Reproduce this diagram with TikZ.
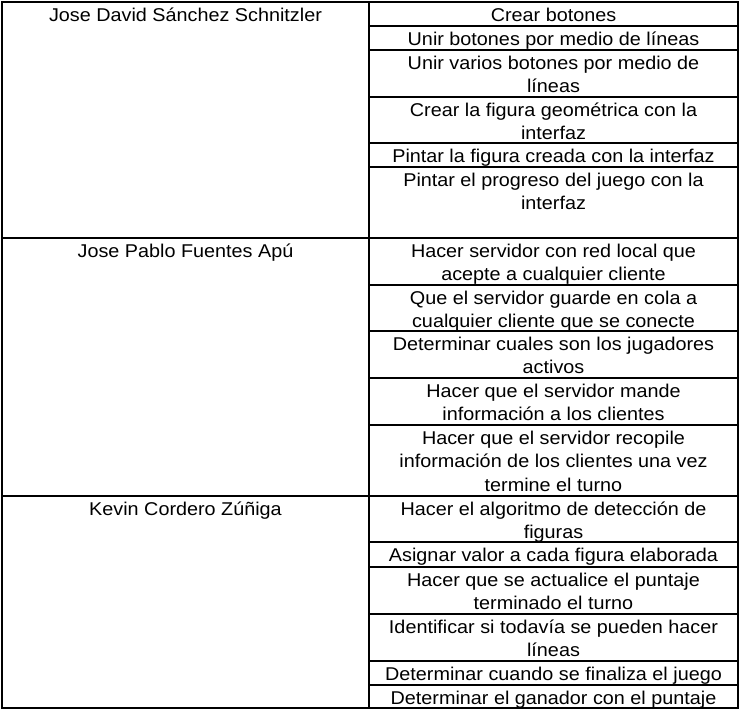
\documentclass[tikz,border=0pt]{standalone}
\usepackage{fontspec}
\usepackage{graphicx}
\setmainfont{Liberation Sans}
\usetikzlibrary{positioning}

\newcommand{\celda}[1]{\scalebox{1.07}[1]{\begin{tabular}[t]{@{}c@{}}#1\end{tabular}}}

\begin{document}
\begin{tikzpicture}[x=1pt,y=-1pt,
  texto/.style={anchor=base,inner sep=0pt,font=\fontsize{18.5}{23.4}\selectfont},
  linea/.style={line width=1.2pt,black}] % pixel grid, y downwards
   \useasboundingbox (0,0) rectangle (741,713);
   \draw[linea] (2,2) rectangle (738,708); % outer frame
   \draw[linea] (369,2) -- (369,708); % column divider
   \foreach \Y in {238,496}
   {\draw[linea] (2,\Y) -- (369,\Y);} % group rules, left column
   % names
   \node[texto] (jose) at (185.5,21.3) {\celda{Jose David Sánchez Schnitzler}};
   \node[texto] (pablo) at (185.5,257.3) {\celda{Jose Pablo Fuentes Apú}};
   \node[texto] (kevin) at (185.5,515.3) {\celda{Kevin Cordero Zúñiga}};
   % tasks, right column
   \foreach \Y/\T [count=\i] in {
      2/{Crear botones},
      26/{Unir botones por medio de líneas},
      50/{Unir varios botones por medio de\\líneas},
      97/{Crear la figura geométrica con la\\interfaz},
      143/{Pintar la figura creada con la interfaz},
      167/{Pintar el progreso del juego con la\\interfaz},
      238/{Hacer servidor con red local que\\acepte a cualquier cliente},
      285/{Que el servidor guarde en cola a\\cualquier cliente que se conecte},
      331/{Determinar cuales son los jugadores\\activos},
      378/{Hacer que el servidor mande\\información a los clientes},
      425/{Hacer que el servidor recopile\\información de los clientes una vez\\termine el turno},
      496/{Hacer el algoritmo de detección de\\figuras},
      542/{Asignar valor a cada figura elaborada},
      567/{Hacer que se actualice el puntaje\\terminado el turno},
      614/{Identificar si todavía se pueden hacer\\líneas},
      661/{Determinar cuando se finaliza el juego},
      685/{Determinar el ganador con el puntaje}}
   {\draw[linea] (369,\Y) -- (738,\Y); % row rule
    \node[texto] (tarea\i) at (553.5,\Y+19.3) {\celda{\T}};}
\end{tikzpicture}
\end{document}
